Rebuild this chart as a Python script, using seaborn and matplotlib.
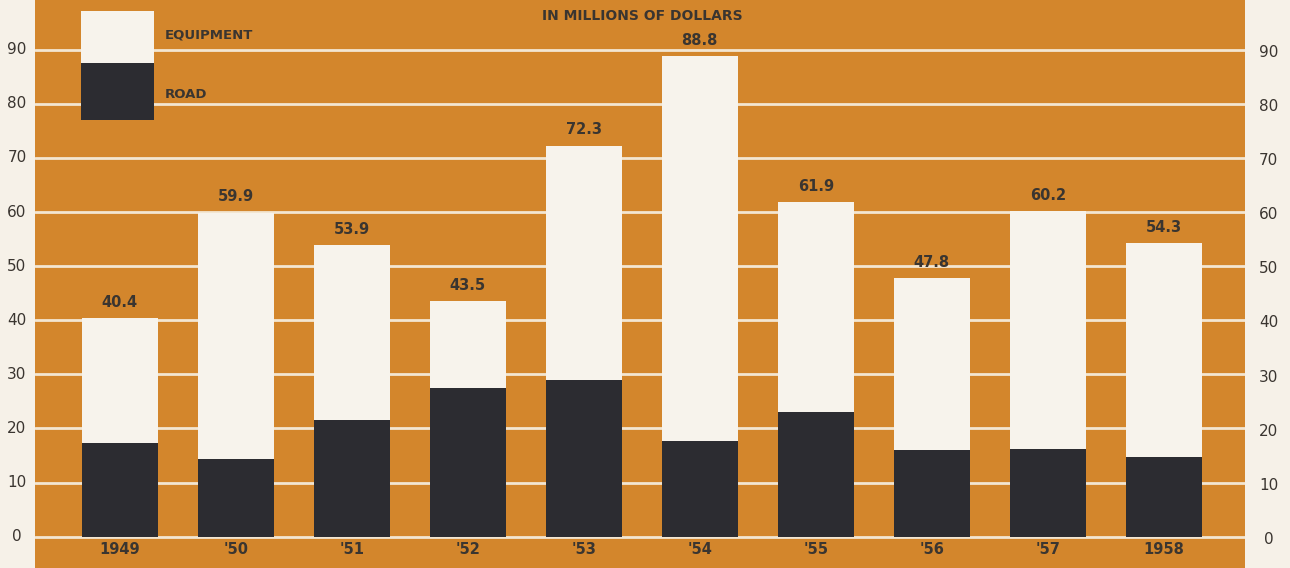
import matplotlib
matplotlib.use("Agg")
import matplotlib.pyplot as plt
import seaborn as sns
import pandas as pd
from matplotlib.patches import Rectangle

years = ["1949", "'50", "'51", "'52", "'53", "'54", "'55", "'56", "'57", "1958"]
totals = [40.4, 59.9, 53.9, 43.5, 72.3, 88.8, 61.9, 47.8, 60.2, 54.3]
road = [17.3, 14.4, 21.6, 27.5, 29.0, 17.6, 23.0, 16.1, 16.2, 14.8]
y_ticks = [0, 10, 20, 30, 40, 50, 60, 70, 80, 90]

ORANGE = "#d3862c"
CREAM = "#f6f1e8"
WHITE_BAR = "#f7f3ec"
DARK_BAR = "#2c2c31"
TEXT = "#3a3530"
GRID = "#f3e6d2"

sns.set_theme(style="white")
plt.rcParams['font.family'] = ['DejaVu Sans']

df = pd.DataFrame({"year": years, "total": totals, "road": road})

fig = plt.figure(figsize=(12.9, 5.68), dpi=100, facecolor=CREAM)
ax = fig.add_axes([35 / 1290, 0, 1210 / 1290, 1])
ax.set_facecolor(ORANGE)

for t in y_ticks:
    ax.axhline(t, color=GRID, lw=2.0, zorder=0.5)

sns.barplot(data=df, x="year", y="total", color=WHITE_BAR, width=0.655,
            saturation=1, ax=ax, zorder=2, edgecolor="none")
sns.barplot(data=df, x="year", y="road", color=DARK_BAR, width=0.655,
            saturation=1, ax=ax, zorder=3, edgecolor="none")

ax.set_xlim(-0.73, 9.7)
ax.set_ylim(-5.8, 99.2)
ax.set_xlabel("")
ax.set_ylabel("")
ax.set_xticks([])
ax.set_yticks([])
for s in ax.spines.values():
    s.set_visible(False)

for i, (yr, tot) in enumerate(zip(years, totals)):
    ax.text(i, tot + 1.5, f"{tot:.1f}", ha="center", va="bottom",
            fontsize=10.5, fontweight="bold", color=TEXT, zorder=5)
    ax.text(i, -2.4, yr, ha="center", va="center",
            fontsize=10.5, fontweight="bold", color=TEXT, zorder=5)

# y tick labels on both sides (in figure margins)
for t in y_ticks:
    ax.annotate(str(t), xy=(0, t), xycoords=("axes fraction", "data"),
                xytext=(-13, 0), textcoords="offset points",
                ha="center", va="center", fontsize=11, color=TEXT,
                annotation_clip=False)
    ax.annotate(str(t), xy=(1, t - 0.5), xycoords=("axes fraction", "data"),
                xytext=(17, 0), textcoords="offset points",
                ha="center", va="center", fontsize=11, color=TEXT,
                annotation_clip=False)

ax.text(0.502, 0.972, "IN MILLIONS OF DOLLARS", transform=ax.transAxes,
        ha="center", va="center", fontsize=10, fontweight="bold", color=TEXT)

# legend
lx0, lx1 = -0.33, 0.30
ax.add_patch(Rectangle((lx0, 87.5), lx1 - lx0, 9.7, facecolor=WHITE_BAR,
                       edgecolor="none", zorder=4))
ax.add_patch(Rectangle((lx0, 77.0), lx1 - lx0, 10.5, facecolor=DARK_BAR,
                       edgecolor="none", zorder=4))
ax.text(0.39, 92.7, "EQUIPMENT", ha="left", va="center", fontsize=9.5,
        fontweight="bold", color=TEXT, zorder=5)
ax.text(0.39, 81.8, "ROAD", ha="left", va="center", fontsize=9.5,
        fontweight="bold", color=TEXT, zorder=5)

fig.savefig("out.png", dpi=100, facecolor=CREAM)
